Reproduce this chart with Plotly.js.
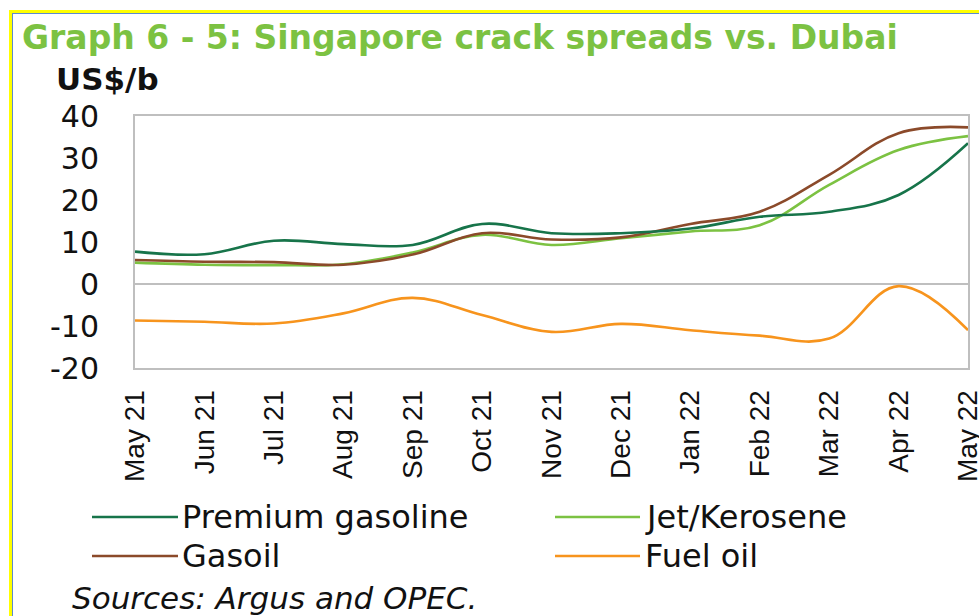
<!DOCTYPE html>
<html>
<head>
<meta charset="utf-8">
<script src="https://cdn.plot.ly/plotly-3.0.1.min.js"></script>
<style>
  html, body { margin: 0; padding: 0; width: 979px; height: 616px; overflow: hidden; background: #ffffff; }
  #chart { position: absolute; left: 0; top: 0; width: 979px; height: 616px; }
  #frameY { position: absolute; left: 9px; top: 10px; width: 2000px; height: 2000px;
            border-left: 3px solid #ffff00; border-top: 3px solid #ffff00; pointer-events: none; }
  #frameB { position: absolute; left: 12px; top: 13px; width: 2000px; height: 2000px;
            border-left: 1px solid #5b8ad0; border-top: 1px solid #5b8ad0; pointer-events: none; }
</style>
</head>
<body>
<div id="chart"></div>
<div id="frameY"></div>
<div id="frameB"></div>
<script>
// ---- data ----
const months = ["May 21","Jun 21","Jul 21","Aug 21","Sep 21","Oct 21","Nov 21","Dec 21","Jan 22","Feb 22","Mar 22","Apr 22","May 22"];
const seriesNames = ["Premium gasoline","Jet/Kerosene","Gasoil","Fuel oil"];
const premiumGasoline = [7.7, 7.1, 10.3, 9.5, 9.3, 14.3, 12.1, 12.1, 13.2, 16.0, 17.2, 21.2, 33.5];
const jetKerosene     = [5.1, 4.6, 4.5, 4.7, 7.5, 11.7, 9.3, 10.9, 12.5, 14.0, 23.6, 31.9, 35.2];
const gasoil          = [5.7, 5.3, 5.2, 4.6, 7.0, 12.1, 10.6, 11.1, 14.3, 17.2, 26.0, 35.9, 37.3];
const fuelOil         = [-8.7, -9.0, -9.4, -7.0, -3.3, -7.4, -11.4, -9.5, -11.0, -12.3, -13.0, -0.5, -11.0];
const yTicks = [-20, -10, 0, 10, 20, 30, 40];

// ---- styling ----
const colors = ["#17744a", "#7cc242", "#8b4a2a", "#f7941d"];
const W = 979, H = 616;
const M = {l: 135, r: 11, t: 116, b: 248};
const PW = W - M.l - M.r, PH = H - M.t - M.b;
const px = x => (x - M.l) / PW;        // pixel -> paper x
const py = y => (H - M.b - y) / PH;    // pixel -> paper y

const values = [premiumGasoline, jetKerosene, gasoil, fuelOil];
// draw order: fuel oil, jet, gasoil, premium on top
const order = [3, 1, 2, 0];
const traces = order.map(i => ({
  type: "scatter", mode: "lines",
  x: months, y: values[i], name: seriesNames[i],
  line: {color: colors[i], width: 2.6, shape: "spline", smoothing: 1.1},
  showlegend: false, hoverinfo: "skip"
}));

// custom legend (two columns, long line samples)
const legendPos = [
  {lx0: 92, lx1: 178, tx: 180, y: 517},
  {lx0: 555, lx1: 640, tx: 643, y: 517},
  {lx0: 92, lx1: 178, tx: 180, y: 556},
  {lx0: 555, lx1: 640, tx: 643, y: 556}
];
const legendOrder = [0, 1, 2, 3];
const shapes = [];
const annotations = [];
legendOrder.forEach((si, k) => {
  const p = legendPos[k];
  shapes.push({type: "line", xref: "paper", yref: "paper",
    x0: px(p.lx0), x1: px(p.lx1), y0: py(p.y), y1: py(p.y),
    line: {color: colors[si], width: 2.6}});
  annotations.push({xref: "paper", yref: "paper", x: px(p.tx), y: py(p.y),
    xanchor: "left", yanchor: "middle", showarrow: false, text: seriesNames[si],
    font: {family: "DejaVu Sans", size: 32, color: "#111111"}});
});
annotations.push({xref: "paper", yref: "paper", x: px(54), y: py(79),
  xanchor: "left", yanchor: "middle", showarrow: false, text: "US$/b",
  font: {family: "DejaVu Sans", size: 31, color: "#111111", weight: "bold"}});
annotations.push({xref: "paper", yref: "paper", x: px(70), y: py(598),
  xanchor: "left", yanchor: "middle", showarrow: false, text: "Sources: Argus and OPEC.",
  font: {family: "DejaVu Sans", size: 31, color: "#111111", style: "italic"}});

const layout = {
  width: W, height: H,
  margin: M,
  paper_bgcolor: "rgba(0,0,0,0)", plot_bgcolor: "#ffffff",
  showlegend: false,
  title: {
    text: "Graph 6 - 5: Singapore crack spreads vs. Dubai",
    xref: "container", yref: "container",
    x: 22 / W, xanchor: "left", y: 1 - 37 / H, yanchor: "middle",
    font: {family: "DejaVu Sans", size: 33, color: "#7cc242", weight: "bold"}
  },
  xaxis: {
    type: "category", range: [0, months.length - 1],
    showgrid: false, zeroline: false,
    showline: true, mirror: true, linecolor: "#bfbfbf", linewidth: 2,
    ticks: "outside", ticklen: 9, tickcolor: "rgba(0,0,0,0)",
    tickangle: -90,
    tickfont: {family: "Liberation Sans", size: 28, color: "#111111"},
    automargin: false, fixedrange: true
  },
  yaxis: {
    range: [-20, 40], tickvals: yTicks, ticktext: yTicks.map(String),
    showgrid: false,
    zeroline: true, zerolinecolor: "#bfbfbf", zerolinewidth: 2,
    showline: true, mirror: true, linecolor: "#bfbfbf", linewidth: 2,
    ticks: "outside", ticklen: 28, tickcolor: "rgba(0,0,0,0)",
    tickfont: {family: "DejaVu Sans", size: 30, color: "#111111"},
    automargin: false, fixedrange: true
  },
  shapes: shapes,
  annotations: annotations
};

Plotly.newPlot("chart", traces, layout, {displayModeBar: false, staticPlot: true});
</script>
</body>
</html>
